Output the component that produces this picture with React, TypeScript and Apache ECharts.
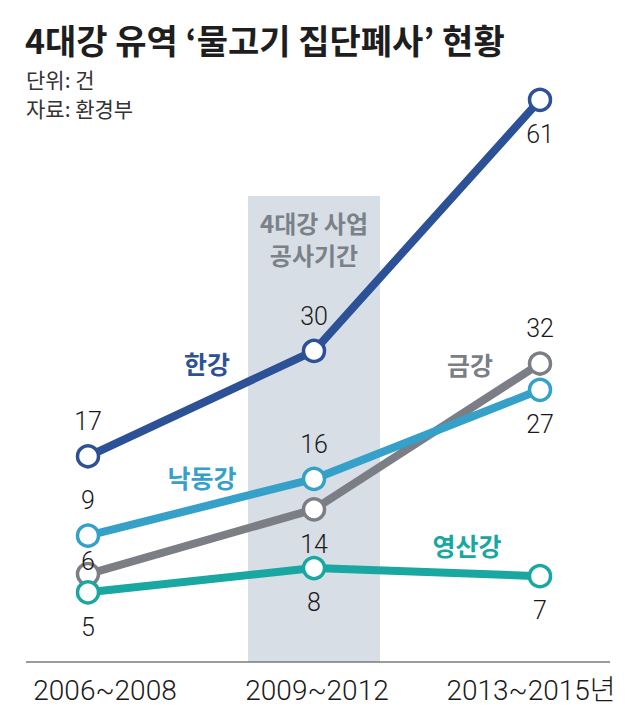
import React, { useEffect, useRef } from "react";
import * as echarts from "echarts";

const categories = ["2006~2008", "2009~2012", "2013~2015년"];
const hanRiver = [17, 30, 61];
const nakdongRiver = [9, 16, 27];
const geumRiver = [6, 14, 32];
const yeongsanRiver = [5, 8, 7];

const NUM_FONT = "Roboto, 'Noto Sans CJK KR', sans-serif";
const KR_FONT = "'Noto Sans CJK KR', sans-serif";

export default function App() {
  const ref = useRef<HTMLDivElement>(null);
  useEffect(() => {
    if (!ref.current) return;
    const chart = echarts.init(ref.current, null, { renderer: "svg" });

    const defs = [
      { name: "한강", data: hanRiver, color: "#2c5197", axis: 0, pos: ["top", "top", "bottom"] },
      { name: "금강", data: geumRiver, color: "#7b7e84", axis: 2, pos: ["top", "bottom", "top"] },
      { name: "낙동강", data: nakdongRiver, color: "#35a0c8", axis: 1, pos: ["top", "top", "bottom"] },
      { name: "영산강", data: yeongsanRiver, color: "#18a7a1", axis: 3, pos: ["bottom", "bottom", "bottom"] },
    ];

    const series = defs.map((d) => ({
      name: d.name,
      type: "line",
      yAxisIndex: d.axis,
      symbol: "circle",
      symbolSize: 21,
      lineStyle: { color: d.color, width: 8 },
      itemStyle: { color: "#ffffff", borderColor: d.color, borderWidth: 3.5 },
      data: d.data.map((v, i) => ({
        value: v,
        label: {
          show: true,
          position: d.pos[i],
          distance: 10,
          offset: d.name === "금강" && i === 0 ? [0, 22] : [0, 0],
        },
      })),
      label: {
        show: true,
        fontFamily: NUM_FONT,
        fontWeight: 300,
        fontSize: 25,
        color: "#1a1a1a",
      },
      emphasis: { disabled: true },
      z: 3,
    }));

    const axisRanges = [
      { min: -8.4, max: 61.6 },
      { min: -6.6, max: 63.4 },
      { min: -4.85, max: 65.15 },
      { min: -3.6, max: 66.4 },
    ];

    const nameLabel = (text: string, x: number, y: number, color: string) => ({
      type: "text",
      x,
      y,
      z: 5,
      style: {
        text,
        fill: color,
        font: `bold 25px ${KR_FONT}`,
        textAlign: "center",
        textVerticalAlign: "middle",
      },
    });

    const xRich = (pad: number[]) => ({
      fontFamily: NUM_FONT,
      fontWeight: 300,
      fontSize: 28,
      color: "#1a1a1a",
      padding: pad,
    });

    chart.setOption({
      animation: false,
      backgroundColor: "#ffffff",
      grid: { left: 88, right: 100, top: 95, bottom: 66 },
      xAxis: {
        type: "category",
        boundaryGap: false,
        data: categories,
        axisLine: { show: false },
        axisTick: { show: false },
        splitLine: { show: false },
        axisLabel: {
          margin: 14,
          formatter: (v: string, i: number) => `{l${i}|${v}}`,
          rich: {
            l0: xRich([0, 0, 0, 34]),
            l1: xRich([0, 0, 0, 6]),
            l2: xRich([0, 18, 0, 0]),
          },
        },
      },
      yAxis: axisRanges.map((r) => ({
        type: "value",
        show: false,
        min: r.min,
        max: r.max,
        splitLine: { show: false },
      })),
      series,
      graphic: [
        {
          type: "rect",
          z: 0,
          shape: { x: 248, y: 196, width: 132, height: 466 },
          style: { fill: "#d7dee5" },
        },
        {
          type: "line",
          z: 1,
          shape: { x1: 26, y1: 662, x2: 610, y2: 662 },
          style: { stroke: "#7a7a7a", lineWidth: 1.5 },
        },
        {
          type: "text",
          x: 314,
          y: 222,
          z: 1,
          style: {
            text: "4대강 사업",
            fill: "#7b8188",
            font: `bold 24px ${KR_FONT}`,
            textAlign: "center",
            textVerticalAlign: "middle",
          },
        },
        {
          type: "text",
          x: 314,
          y: 254,
          z: 1,
          style: {
            text: "공사기간",
            fill: "#7b8188",
            font: `bold 24px ${KR_FONT}`,
            textAlign: "center",
            textVerticalAlign: "middle",
          },
        },
        {
          type: "text",
          x: 25,
          y: 39,
          style: {
            text: "4대강 유역 ‘물고기 집단폐사’ 현황",
            fill: "#1e1e1e",
            font: `bold 34px ${KR_FONT}`,
            textVerticalAlign: "middle",
          },
        },
        {
          type: "text",
          x: 26,
          y: 79,
          style: {
            text: "단위: 건",
            fill: "#333333",
            font: `normal 21px ${KR_FONT}`,
            textVerticalAlign: "middle",
          },
        },
        {
          type: "text",
          x: 26,
          y: 108,
          style: {
            text: "자료: 환경부",
            fill: "#333333",
            font: `normal 21px ${KR_FONT}`,
            textVerticalAlign: "middle",
          },
        },
        nameLabel("한강", 207, 363, "#2c5197"),
        nameLabel("낙동강", 202, 477, "#35a0c8"),
        nameLabel("금강", 470, 364, "#7b7e84"),
        nameLabel("영산강", 467, 545, "#18a7a1"),
      ],
    });

    return () => chart.dispose();
  }, []);

  return (
    <div
      ref={ref}
      style={{ position: "absolute", left: 0, top: 0, width: 640, height: 728, background: "#fff" }}
    />
  );
}
